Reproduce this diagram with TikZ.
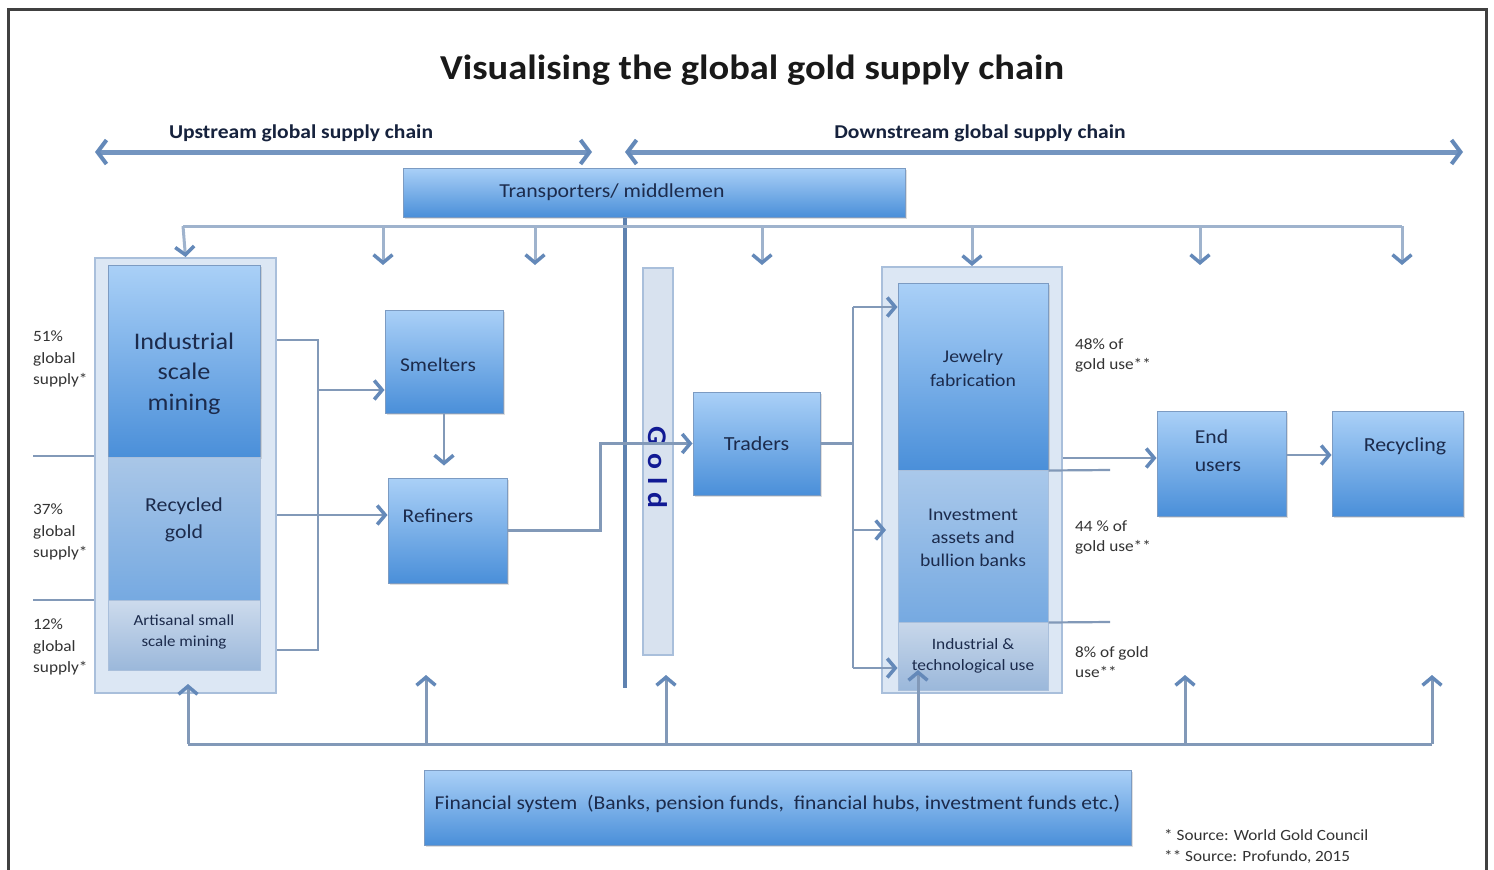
\documentclass[tikz,border=0pt]{standalone}
\usepackage{fontspec}
\setmainfont{Carlito}[FakeStretch=1.1]
\usetikzlibrary{arrows.meta,shadows}
\definecolor{boxtop}{HTML}{AAD0F7}
\definecolor{boxbot}{HTML}{4A8FD9}
\definecolor{boxline}{HTML}{7C9BC2}
\definecolor{navy}{HTML}{1C2B4C}
\definecolor{flowcol}{HTML}{8299B8}
\definecolor{tipcol}{HTML}{6489B9}
\definecolor{distcol}{HTML}{9FB3CD}
\definecolor{wrapfill}{HTML}{DCE7F4}
\definecolor{wrapline}{HTML}{A9BFDB}
\definecolor{notecol}{HTML}{333333}

\begin{document}
\begin{tikzpicture}[x=1pt,y=-1pt,
  >={Straight Barb[length=8pt,width=19pt,line width=3.5pt,color=tipcol]},
  stagebox/.style={rectangle,draw=boxline,line width=1pt,top color=boxtop,bottom color=boxbot,
    inner sep=0pt,drop shadow={opacity=.25,shadow xshift=2pt,shadow yshift=-2pt}},
  wrapbox/.style={rectangle,draw=wrapline,line width=2pt,fill=wrapfill,inner sep=0pt},
  midblk/.style={rectangle,draw=wrapline,line width=1pt,top color=#1,bottom color=boxbot!70!wrapfill,inner sep=0pt},
  paleblk/.style={rectangle,draw=wrapline,line width=1pt,top color=#1,bottom color=wrapline!85!boxbot,inner sep=0pt},
  boxlabel/.style={text=navy,align=center,inner sep=0pt},
  flow/.style={draw=flowcol,line width=2.2pt},
  dist/.style={draw=distcol,line width=3pt},
  sidenote/.style={text=notecol,align=left,anchor=west,inner sep=0pt,font=\fontsize{15.7}{20}\selectfont},
  heading/.style={font=\bfseries\fontsize{19.6}{22}\selectfont,text=navy!80!black}]
\useasboundingbox (0,0) rectangle (1494,870);
\fill[white] (0,0) rectangle (1494,870);
\draw[line width=3pt,draw=black!75] (8,872) -- (8,9) -- (1486,9) -- (1486,872);
%
% titles
\node [font=\bfseries\fontsize{35}{40}\selectfont,text=black!90] at (752,70) (title) {Visualising the global gold supply chain};
\node [heading] at (301,133) (upst) {Upstream global supply chain};
\node [heading] at (980,133) (downst) {Downstream global supply chain};
\coordinate (upL) at (95,152);
\coordinate (upR) at (592,152);
\coordinate (dnL) at (625,152);
\coordinate (dnR) at (1463,152);
\draw[<->,draw=tipcol!90,line width=5pt,>={Straight Barb[length=9pt,width=24pt,line width=4pt,color=tipcol]}] (upL) -- (upR);
\draw[<->,draw=tipcol!90,line width=5pt,>={Straight Barb[length=9pt,width=24pt,line width=4pt,color=tipcol]}] (dnL) -- (dnR);
%
% boxes
\node [stagebox,minimum width=502,minimum height=49,
  label={[boxlabel,font=\fontsize{19.8}{22}\selectfont,xshift=-42pt]center:Transporters/ middlemen}] at (654,192.5) (transp) {};
\node [wrapbox,minimum width=181,minimum height=435] at (185.5,475.5) (mine) {};
\node [stagebox,drop shadow={opacity=0},minimum width=152,minimum height=192,
  label={[boxlabel,font=\fontsize{23.8}{30.5}\selectfont,yshift=-12.5pt]center:{Industrial\\scale\\mining}}] at (184,361) (ism) {};
\node [midblk=boxtop!45!wrapline,minimum width=152,minimum height=143,
  label={[boxlabel,font=\fontsize{19.8}{27}\selectfont,yshift=8.5pt]center:{Recycled\\gold}}] at (184,528.5) (regold) {};
\node [paleblk=wrapfill!70!wrapline,minimum width=152,minimum height=70,
  label={[boxlabel,font=\fontsize{15.4}{21}\selectfont,yshift=3.5pt]center:{Artisanal small\\scale mining}}] at (184,635) (artis) {};
\node [stagebox,minimum width=118,minimum height=103,
  label={[boxlabel,font=\fontsize{19.5}{23}\selectfont,xshift=-6pt,yshift=-3.5pt]center:Smelters}] at (444,361.5) (smelt) {};
\node [stagebox,minimum width=119,minimum height=105,
  label={[boxlabel,font=\fontsize{19.5}{23}\selectfont,xshift=-9.5pt,yshift=14.5pt]center:Refiners}] at (447.5,530.5) (refin) {};
\node [rectangle,draw=wrapline,line width=1.5pt,fill=wrapline!45!white,minimum width=30,minimum height=387,inner sep=0pt,
  label={[boxlabel,text=navy!60!blue,font=\bfseries\fontsize{27}{30}\selectfont,yshift=-6pt]center:\rotatebox{-90}{G\hspace{8pt}o\hspace{8pt}l\hspace{8pt}d}}] at (658,461.5) (gold) {};
\node [stagebox,minimum width=127,minimum height=103,
  label={[boxlabel,font=\fontsize{20}{23}\selectfont]center:Traders}] at (756.5,443.5) (traders) {};
\node [wrapbox,minimum width=180,minimum height=426] at (972,480) (usebox) {};
\node [stagebox,drop shadow={opacity=0},minimum width=150,minimum height=187,
  label={[boxlabel,font=\fontsize{17.9}{24}\selectfont,yshift=8.5pt]center:{Jewelry\\fabrication}}] at (973,376.5) (jewel) {};
\node [midblk=boxtop!55!wrapline,minimum width=150,minimum height=152,
  label={[boxlabel,font=\fontsize{17.9}{23}\selectfont,yshift=8pt]center:{Investment\\assets and\\bullion banks}}] at (973,546) (invest) {};
\node [paleblk=wrapfill!60!wrapline,minimum width=150,minimum height=68,
  label={[boxlabel,font=\fontsize{15.8}{21}\selectfont]center:{Industrial \&\\technological use}}] at (973,656) (indus) {};
\node [stagebox,minimum width=129,minimum height=105,
  label={[boxlabel,align=left,font=\fontsize{19.7}{28}\selectfont,xshift=-3.5pt,yshift=12.5pt]center:{End\\users}}] at (1221.5,463.5) (endu) {};
\node [stagebox,minimum width=131,minimum height=105,
  label={[boxlabel,font=\fontsize{19.9}{23}\selectfont,xshift=7.5pt,yshift=17.5pt]center:Recycling}] at (1397.5,463.5) (recyc) {};
\node [stagebox,minimum width=707,minimum height=75,
  label={[boxlabel,font=\fontsize{19.6}{22}\selectfont,yshift=4pt]center:Financial system\ \ (Banks, pension funds,\ \ financial hubs, investment funds etc.)}] at (777.5,807.5) (finance) {};
%
% side notes
\node [sidenote,font=\fontsize{15.7}{21.5}\selectfont] at (33,359) (s51) {51\%\\global\\supply*};
\node [sidenote,font=\fontsize{15.7}{21.5}\selectfont] at (33,532) (s37) {37\%\\global\\supply*};
\node [sidenote,font=\fontsize{15.7}{21.5}\selectfont] at (33,647) (s12) {12\%\\global\\supply*};
\node [sidenote] at (1075,355) (u48) {48\% of\\gold use**};
\node [sidenote] at (1075,537) (u44) {44 \% of\\gold use**};
\node [sidenote] at (1075,662) (u8) {8\% of gold\\use**};
\node [sidenote,font=\fontsize{15.6}{21}\selectfont] at (1164,846) (src) {* Source: World Gold Council\\** Source: Profundo, 2015};
%
% distribution from transporters
\draw[line width=4pt,draw=tipcol!95!black] (transp.south -| 625,0) -- (625,688);
\coordinate (distL) at (183,226);
\coordinate (distR) at (1402,226);
\draw[dist] (distL) -- (distR);
\draw[dist,->] (distL) -- (mine.north);
\foreach \x/\y [count=\i] in {383/265,535/265,762/265,1200/265,1402/265}
  {\coordinate (dn\i) at (\x,226); \coordinate (dtip\i) at (\x,\y); \draw[dist,->] (dn\i) -- (dtip\i);}
\draw[dist,->] (usebox.north |- distL) -- (usebox.north);
%
% supply side flows
\coordinate (split) at (318,340);
\draw[flow] (33,456) -- (mine.west |- 0,456);
\draw[flow] (33,600) -- (mine.west |- 0,600);
\draw[flow] (mine.east |- split) -- (split) -- (split |- 0,650) -- (mine.east |- 0,650);
\draw[flow,->] (split |- 0,390) -- (smelt.west |- 0,390);
\draw[flow,->] (mine.east |- 0,515) -- (refin.west |- 0,515);
\draw[flow,->,shorten >=12pt] (smelt.south) -- (smelt.south |- refin.north);
\draw[flow,->] (refin.east) -- ++(93,0) |- (traders.west);
%
% demand side flows
\coordinate (fork) at (853,443.5);
\draw[flow] (traders.east) -- (fork);
\draw[flow] (fork |- 0,307) -- (fork |- 0,668);
\draw[flow,->] (fork |- 0,307) -- (jewel.west |- 0,307);
\draw[flow,->] (fork |- 0,530) -- (usebox.west |- 0,530) -- ++(5,0);
\draw[flow,->] (fork |- 0,668) -- (indus.west |- 0,668);
\draw[flow] (jewel.south east) -- (1110,470);
\draw[flow] (invest.south east) -- (1110,622);
\draw[flow,->] (usebox.east |- 0,458) -- (endu.west |- 0,458);
\draw[flow,->] (endu.east |- 0,455) -- (recyc.west |- 0,455);
%
% financial system feedback
\coordinate (busL) at (188,744);
\coordinate (busR) at (1432,744);
\draw[dist,draw=flowcol] (busL) -- (busR);
\foreach \x/\y [count=\i] in {188/684,426/675,666/675,918/670,1185/675,1432/675}
  {\coordinate (up\i) at (\x,744); \coordinate (utip\i) at (\x,\y); \draw[dist,draw=flowcol,->] (up\i) -- (utip\i);}

\end{tikzpicture}
\end{document}
